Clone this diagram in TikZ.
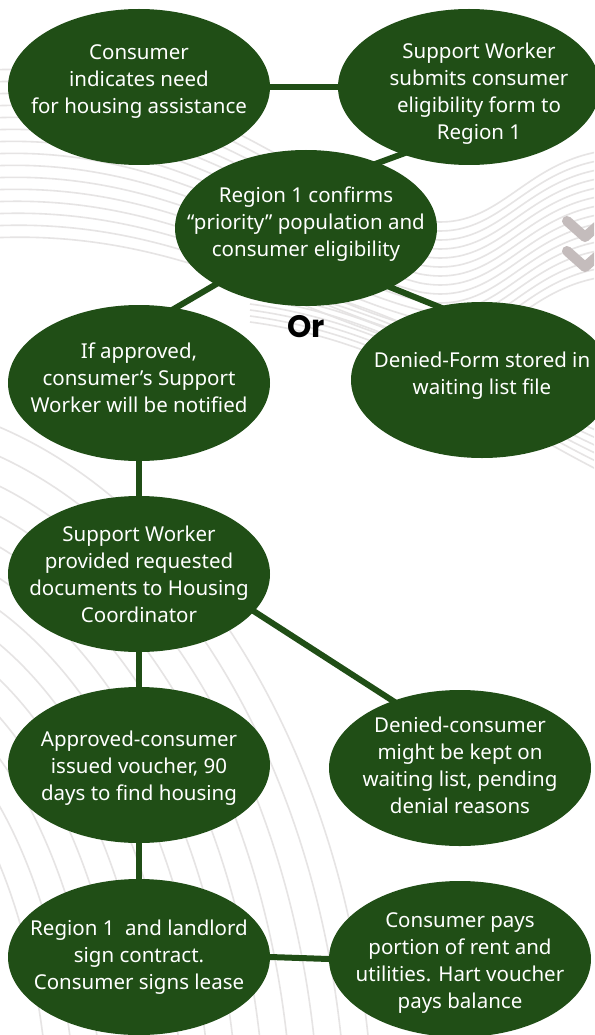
\documentclass[tikz,border=0pt]{standalone}
\usepackage{fontspec}
\setmainfont{Noto Sans}
\newfontfamily\orfont{Poppins}
\usetikzlibrary{shapes.geometric,backgrounds}
\definecolor{leaf}{RGB}{32,78,22}
\definecolor{topo}{RGB}{230,228,228}
\definecolor{chevgray}{RGB}{196,188,188}

\begin{document}
\begin{tikzpicture}[x=1pt, y=-1pt,
    bubble/.style={ellipse, fill=leaf, minimum width=262pt, minimum height=156pt, inner sep=0pt},
    says/.style={text=white, align=center, inner sep=0pt, font=\fontsize{20.5}{27}\selectfont},
    link/.style={draw=leaf, line width=6pt, shorten <=-6pt, shorten >=-6pt},
    contour/.style={draw=topo, line width=1.6pt}]
    \useasboundingbox (0,0) rectangle (594,1035);

    % steps
    \node[bubble, label={[says, yshift=5pt]center:{Consumer\\indicates need\\for housing assistance}}] (need) at (139,87) {};
    \node[bubble, label={[says, yshift=-7pt, xshift=10pt]center:{Support Worker\\submits consumer\\eligibility form to\\Region 1}}] (submit) at (469,87) {};
    \node[bubble, label={[says, yshift=4pt]center:{Region 1 confirms\\“priority” population and\\consumer eligibility}}] (confirm) at (306,228) {};
    \node[bubble, label={[says, yshift=5pt]center:{If approved,\\consumer’s Support\\Worker will be notified}}] (approved) at (139,383) {};
    \node[bubble, label={[says, yshift=4pt]center:{Denied-Form stored in\\waiting list file}}] (stored) at (482,380) {};
    \node[bubble, label={[says]center:{Support Worker\\provided requested\\documents to Housing\\Coordinator}}] (docs) at (139,574) {};
    \node[bubble, label={[says, yshift=-3pt]center:{Approved-consumer\\issued voucher, 90\\days to find housing}}] (voucher) at (139,765) {};
    \node[bubble, label={[says, yshift=3pt]center:{Denied-consumer\\might be kept on\\waiting list, pending\\denial reasons}}] (waiting) at (460,768) {};
    \node[bubble, label={[says]center:{Region 1 \ and landlord\\sign contract.\\Consumer signs lease}}] (lease) at (139,957) {};
    \node[bubble, label={[says, yshift=-4pt]center:{Consumer pays\\portion of rent and\\utilities. Hart voucher\\pays balance}}] (pays) at (460,959) {};
    \node[font=\orfont\bfseries\fontsize{31}{33}\selectfont] (or) at (306,327) {Or};

    \begin{pgfonlayer}{background}
        \fill[white] (0,0) rectangle (594,1035);
        \begin{scope}
            \clip (0,0) rectangle (594,1035);
            % contour lines
            \foreach \k in {0,...,12}
                \draw[contour] (-150,1150) ellipse [x radius=200+27*\k, y radius=430+27*\k];
            \foreach \k in {0,...,14}
                \draw[contour] (-10,70+12*\k) .. controls (180,60+12*\k) and (300,190+9*\k) .. (420,220+9*\k)
                    .. controls (500,235+9*\k) and (520,160+9*\k) .. (610,150+9*\k);
            \foreach \k in {0,...,7}
                \draw[contour] (250,280+6*\k) .. controls (400,300+6*\k) and (500,380+6*\k) .. (610,420+8*\k);
            \draw[chevgray, line width=10pt, line cap=round, line join=round]
                (567,221) -- (585,237) -- (603,221) (567,251) -- (585,267) -- (603,251);
        \end{scope}
        % connectors
        \draw[link] (need.east) -- (submit.west);
        \draw[link] (submit.225) -- (confirm.42);
        \draw[link] (confirm.212) -- (approved.64);
        \draw[link] (confirm.325) -- (stored.121);
        \draw[link] (approved.south) -- (docs.north);
        \draw[link] (docs.south) -- (voucher.north);
        \draw[link] (docs.342) -- (waiting.135);
        \draw[link] (voucher.south) -- (lease.north);
        \draw[link] (lease.east) -- (pays.west);
    \end{pgfonlayer}
\end{tikzpicture}
\end{document}
